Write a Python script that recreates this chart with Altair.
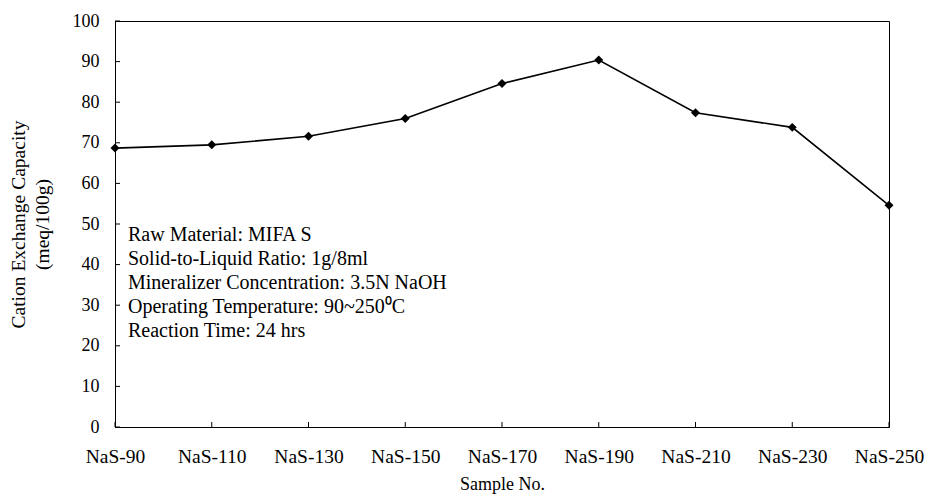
import altair as alt
import pandas as pd

samples = ["NaS-90", "NaS-110", "NaS-130", "NaS-150", "NaS-170",
           "NaS-190", "NaS-210", "NaS-230", "NaS-250"]
cec = [68.7, 69.5, 71.6, 76.0, 84.6, 90.4, 77.4, 73.8, 54.6]
y_ticks = [0, 10, 20, 30, 40, 50, 60, 70, 80, 90, 100]
notes = ["Raw Material: MIFA S",
         "Solid-to-Liquid Ratio: 1g/8ml",
         "Mineralizer Concentration: 3.5N NaOH",
         "Operating Temperature: 90~250\u2070C",
         "Reaction Time: 24 hrs"]

df = pd.DataFrame({"sample": samples, "cec": cec})
yt = pd.DataFrame({"v": y_ticks})
nt = pd.DataFrame({"t": notes, "i": list(range(len(notes)))})

FONT = "Liberation Serif"
W, H = 774, 406

xscale = alt.Scale(type="point", domain=samples, padding=0)
yscale = alt.Scale(domain=[0, 100], nice=False)

xenc = alt.X("sample:N", scale=xscale, sort=samples,
             axis=alt.Axis(title="Sample No.", labelAngle=0, tickSize=0,
                           labelPadding=20, titlePadding=10,
                           labelFontSize=19.5, titleFontSize=18,
                           labelFont=FONT, titleFont=FONT,
                           labelColor="black", titleColor="black",
                           titleFontWeight="normal", domainColor="black"))
yenc = alt.Y("cec:Q", scale=yscale,
             axis=alt.Axis(title=["Cation Exchange Capacity", "(meq/100g)"],
                           values=y_ticks, tickSize=0, labelPadding=16,
                           titlePadding=20, labelFontSize=18, titleFontSize=19.5,
                           titleLineHeight=24,
                           labelFont=FONT, titleFont=FONT,
                           labelColor="black", titleColor="black",
                           titleFontWeight="normal", domainColor="black",
                           grid=False))

line = alt.Chart(df).mark_line(
    color="black", strokeWidth=1.6,
    point=alt.OverlayMarkDef(shape="diamond", filled=True, color="black",
                             size=80, opacity=1),
).encode(x=xenc, y=yenc)

ytick = alt.Chart(yt).mark_rule(color="black", strokeWidth=1).encode(
    y=alt.Y("v:Q", scale=yscale, axis=None), x=alt.value(0), x2=alt.value(5))
xtick = alt.Chart(df).mark_rule(color="black", strokeWidth=1).encode(
    x=alt.X("sample:N", scale=xscale, sort=samples),
    y=alt.value(H - 5), y2=alt.value(H))

text = alt.Chart(nt).mark_text(align="left", baseline="middle", font=FONT,
                               fontSize=20, color="black").encode(
    x=alt.value(13),
    y=alt.Y("i:Q", scale=alt.Scale(domain=[0, 4], range=[214, 310]), axis=None),
    text="t:N")

chart = alt.layer(line, ytick, xtick, text).resolve_scale(y="independent").properties(
    width=W, height=H,
    autosize=alt.AutoSizeParams(type="none"),
    padding={"left": 115, "top": 21, "right": 39, "bottom": 76},
    background="white",
).configure_view(stroke="black", strokeWidth=1)

chart.save("out.html", embed_options={"renderer": "svg", "actions": False})
